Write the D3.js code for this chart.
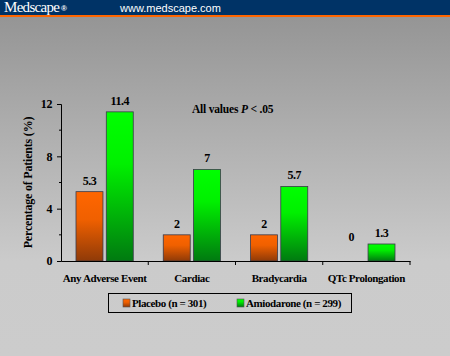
<!DOCTYPE html>
<html>
<head>
<meta charset="utf-8">
<script src="https://cdn.jsdelivr.net/npm/d3@7"></script>
<style>
  html, body { margin: 0; padding: 0; background: #ccc; }
  svg { display: block; }
</style>
</head>
<body>
<div id="chart"></div>
<script>
// chart data
const categories = ['Any Adverse Event', 'Cardiac', 'Bradycardia', 'QTc Prolongation'];
const placebo = [5.3, 2, 2, 0];
const amiodarone = [11.4, 7, 5.7, 1.3];
const seriesNames = ['Placebo (n = 301)', 'Amiodarone (n = 299)'];
const yTicks = [0, 4, 8, 12];
const yMinorTicks = [2, 6, 10];

const W = 450, H = 356;
const margin = { left: 61, right: 40, top: 104, bottom: 95 };
const serif = '"Liberation Serif", "Times New Roman", serif';

const svg = d3.select('#chart').append('svg')
  .attr('width', W)
  .attr('height', H);

const defs = svg.append('defs');

// background: gray getting lighter toward the bottom
const bg = defs.append('linearGradient')
  .attr('id', 'bg').attr('x1', 0).attr('y1', 0).attr('x2', 0).attr('y2', 1);
bg.append('stop').attr('offset', '0%').attr('stop-color', '#959595');
bg.append('stop').attr('offset', '72%').attr('stop-color', '#cbcbcb');
bg.append('stop').attr('offset', '100%').attr('stop-color', '#cccccc');

const orange = defs.append('linearGradient')
  .attr('id', 'gOrange').attr('x1', 0).attr('y1', 0).attr('x2', 0).attr('y2', 1);
orange.append('stop').attr('offset', '0%').attr('stop-color', '#ff6600');
orange.append('stop').attr('offset', '40%').attr('stop-color', '#f06000');
orange.append('stop').attr('offset', '100%').attr('stop-color', '#8f3a08');

const green = defs.append('linearGradient')
  .attr('id', 'gGreen').attr('x1', 0).attr('y1', 0).attr('x2', 0).attr('y2', 1);
green.append('stop').attr('offset', '0%').attr('stop-color', '#00ff00');
green.append('stop').attr('offset', '35%').attr('stop-color', '#00f000');
green.append('stop').attr('offset', '100%').attr('stop-color', '#007a10');

svg.append('rect')
  .attr('x', 0).attr('y', 17).attr('width', W).attr('height', H - 17)
  .attr('fill', 'url(#bg)');

// header bar
svg.append('rect')
  .attr('x', 0).attr('y', 0).attr('width', W).attr('height', 15)
  .attr('fill', '#003366');
svg.append('rect')
  .attr('x', 0).attr('y', 15).attr('width', W).attr('height', 2)
  .attr('fill', '#ff6600');
svg.append('text')
  .attr('x', 4).attr('y', 12)
  .style('font-family', serif)
  .style('font-size', '15px')
  .style('fill', '#fff')
  .style('letter-spacing', '-0.7px')
  .text('Medscape');
svg.append('text')
  .attr('x', 61).attr('y', 11)
  .style('font-family', '"Liberation Sans", Arial, sans-serif')
  .style('font-size', '8px')
  .style('font-weight', 'bold')
  .style('fill', '#fff')
  .text('®');
svg.append('text')
  .attr('x', 120).attr('y', 12)
  .style('font-family', '"Liberation Sans", Arial, sans-serif')
  .style('font-size', '11px')
  .style('fill', '#fff')
  .text('www.medscape.com');

// scales
const x0 = d3.scaleBand()
  .domain(categories)
  .range([margin.left, W - margin.right])
  .paddingInner(0)
  .paddingOuter(0);

const x1 = d3.scaleBand()
  .domain(['placebo', 'amiodarone'])
  .range([15, x0.bandwidth() - 15])
  .paddingInner(0.11);

const y = d3.scaleLinear()
  .domain([0, 12])
  .range([H - margin.bottom, margin.top]);

const g = svg.append('g');

// bars
const groups = g.selectAll('g.cat')
  .data(categories.map((c, i) => ({ cat: c, vals: [
    { key: 'placebo', v: placebo[i], fill: 'url(#gOrange)' },
    { key: 'amiodarone', v: amiodarone[i], fill: 'url(#gGreen)' }
  ] })))
  .join('g')
  .attr('class', 'cat')
  .attr('transform', d => `translate(${x0(d.cat)},0)`);

groups.selectAll('rect')
  .data(d => d.vals.filter(e => e.v > 0))
  .join('rect')
  .attr('x', d => x1(d.key))
  .attr('y', d => y(d.v))
  .attr('width', x1.bandwidth())
  .attr('height', d => y(0) - y(d.v))
  .attr('fill', d => d.fill)
  .attr('stroke', '#3a3a4a')
  .attr('stroke-width', 0.8);

groups.selectAll('text.val')
  .data(d => d.vals)
  .join('text')
  .attr('class', 'val')
  .attr('x', d => x1(d.key) + x1.bandwidth() / 2)
  .attr('y', d => d.v > 0 ? y(d.v) - 7 : y(1.5))
  .attr('text-anchor', 'middle')
  .style('font-family', serif)
  .style('font-size', '12px')
  .style('letter-spacing', '-0.5px')
  .style('font-weight', 'bold')
  .text(d => d.v);

// y axis
const yAxis = g.append('g')
  .attr('transform', `translate(${margin.left},0)`)
  .call(d3.axisLeft(y).tickValues(yTicks).tickSize(4).tickPadding(5));
yAxis.select('.domain').attr('stroke', '#000').attr('stroke-width', 1);
yAxis.selectAll('.tick text')
  .style('font-family', serif)
  .style('font-size', '12px')
  .style('letter-spacing', '-0.4px')
  .style('font-weight', 'bold');

g.append('g')
  .attr('transform', `translate(${margin.left},0)`)
  .selectAll('line')
  .data(yMinorTicks)
  .join('line')
  .attr('x1', -2).attr('x2', 0)
  .attr('y1', d => y(d)).attr('y2', d => y(d))
  .attr('stroke', '#000');

// x axis
const xAxis = g.append('g')
  .attr('transform', `translate(0,${y(0)})`)
  .call(d3.axisBottom(x0).tickSize(0).tickPadding(13).tickSizeOuter(0));
xAxis.select('.domain').attr('stroke', '#000');
xAxis.selectAll('.tick text')
  .style('font-family', serif)
  .style('font-size', '11px')
  .style('letter-spacing', '-0.4px')
  .style('font-weight', 'bold');

const boundaries = categories.map(c => x0(c) + x0.bandwidth());
g.append('g')
  .selectAll('line')
  .data(boundaries)
  .join('line')
  .attr('x1', d => d).attr('x2', d => d)
  .attr('y1', y(0)).attr('y2', y(0) + 4)
  .attr('stroke', '#000');

// y label
svg.append('text')
  .attr('transform', `translate(32,${(y(0) + y(12)) / 2}) rotate(-90)`)
  .attr('text-anchor', 'middle')
  .style('font-family', serif)
  .style('font-size', '12px')
  .style('letter-spacing', '-0.2px')
  .style('font-weight', 'bold')
  .text('Percentage of Patients (%)');

// annotation
const note = svg.append('text')
  .attr('x', 192).attr('y', 113)
  .style('font-family', serif)
  .style('font-size', '11.5px')
  .style('letter-spacing', '-0.2px')
  .style('font-weight', 'bold');
note.append('tspan').text('All values ');
note.append('tspan').style('font-style', 'italic').text('P');
note.append('tspan').text(' < .05');

// legend
const legend = svg.append('g');
legend.append('rect')
  .attr('x', 108.5).attr('y', 293.5).attr('width', 243).attr('height', 19)
  .attr('fill', 'none')
  .attr('stroke', '#000')
  .attr('stroke-width', 1);

const legItems = legend.selectAll('g.item')
  .data(seriesNames.map((n, i) => ({ name: n, fill: i ? 'url(#gGreen)' : 'url(#gOrange)', x: i ? 237 : 123 })))
  .join('g')
  .attr('class', 'item')
  .attr('transform', d => `translate(${d.x},299)`);
legItems.append('rect')
  .attr('width', 7).attr('height', 8)
  .attr('fill', d => d.fill)
  .attr('stroke', '#555')
  .attr('stroke-width', 0.6);
legItems.append('text')
  .attr('x', 9).attr('y', 8)
  .style('font-family', serif)
  .style('font-size', '11px')
  .style('letter-spacing', '-0.4px')
  .style('font-weight', 'bold')
  .text(d => d.name);
</script>
</body>
</html>
